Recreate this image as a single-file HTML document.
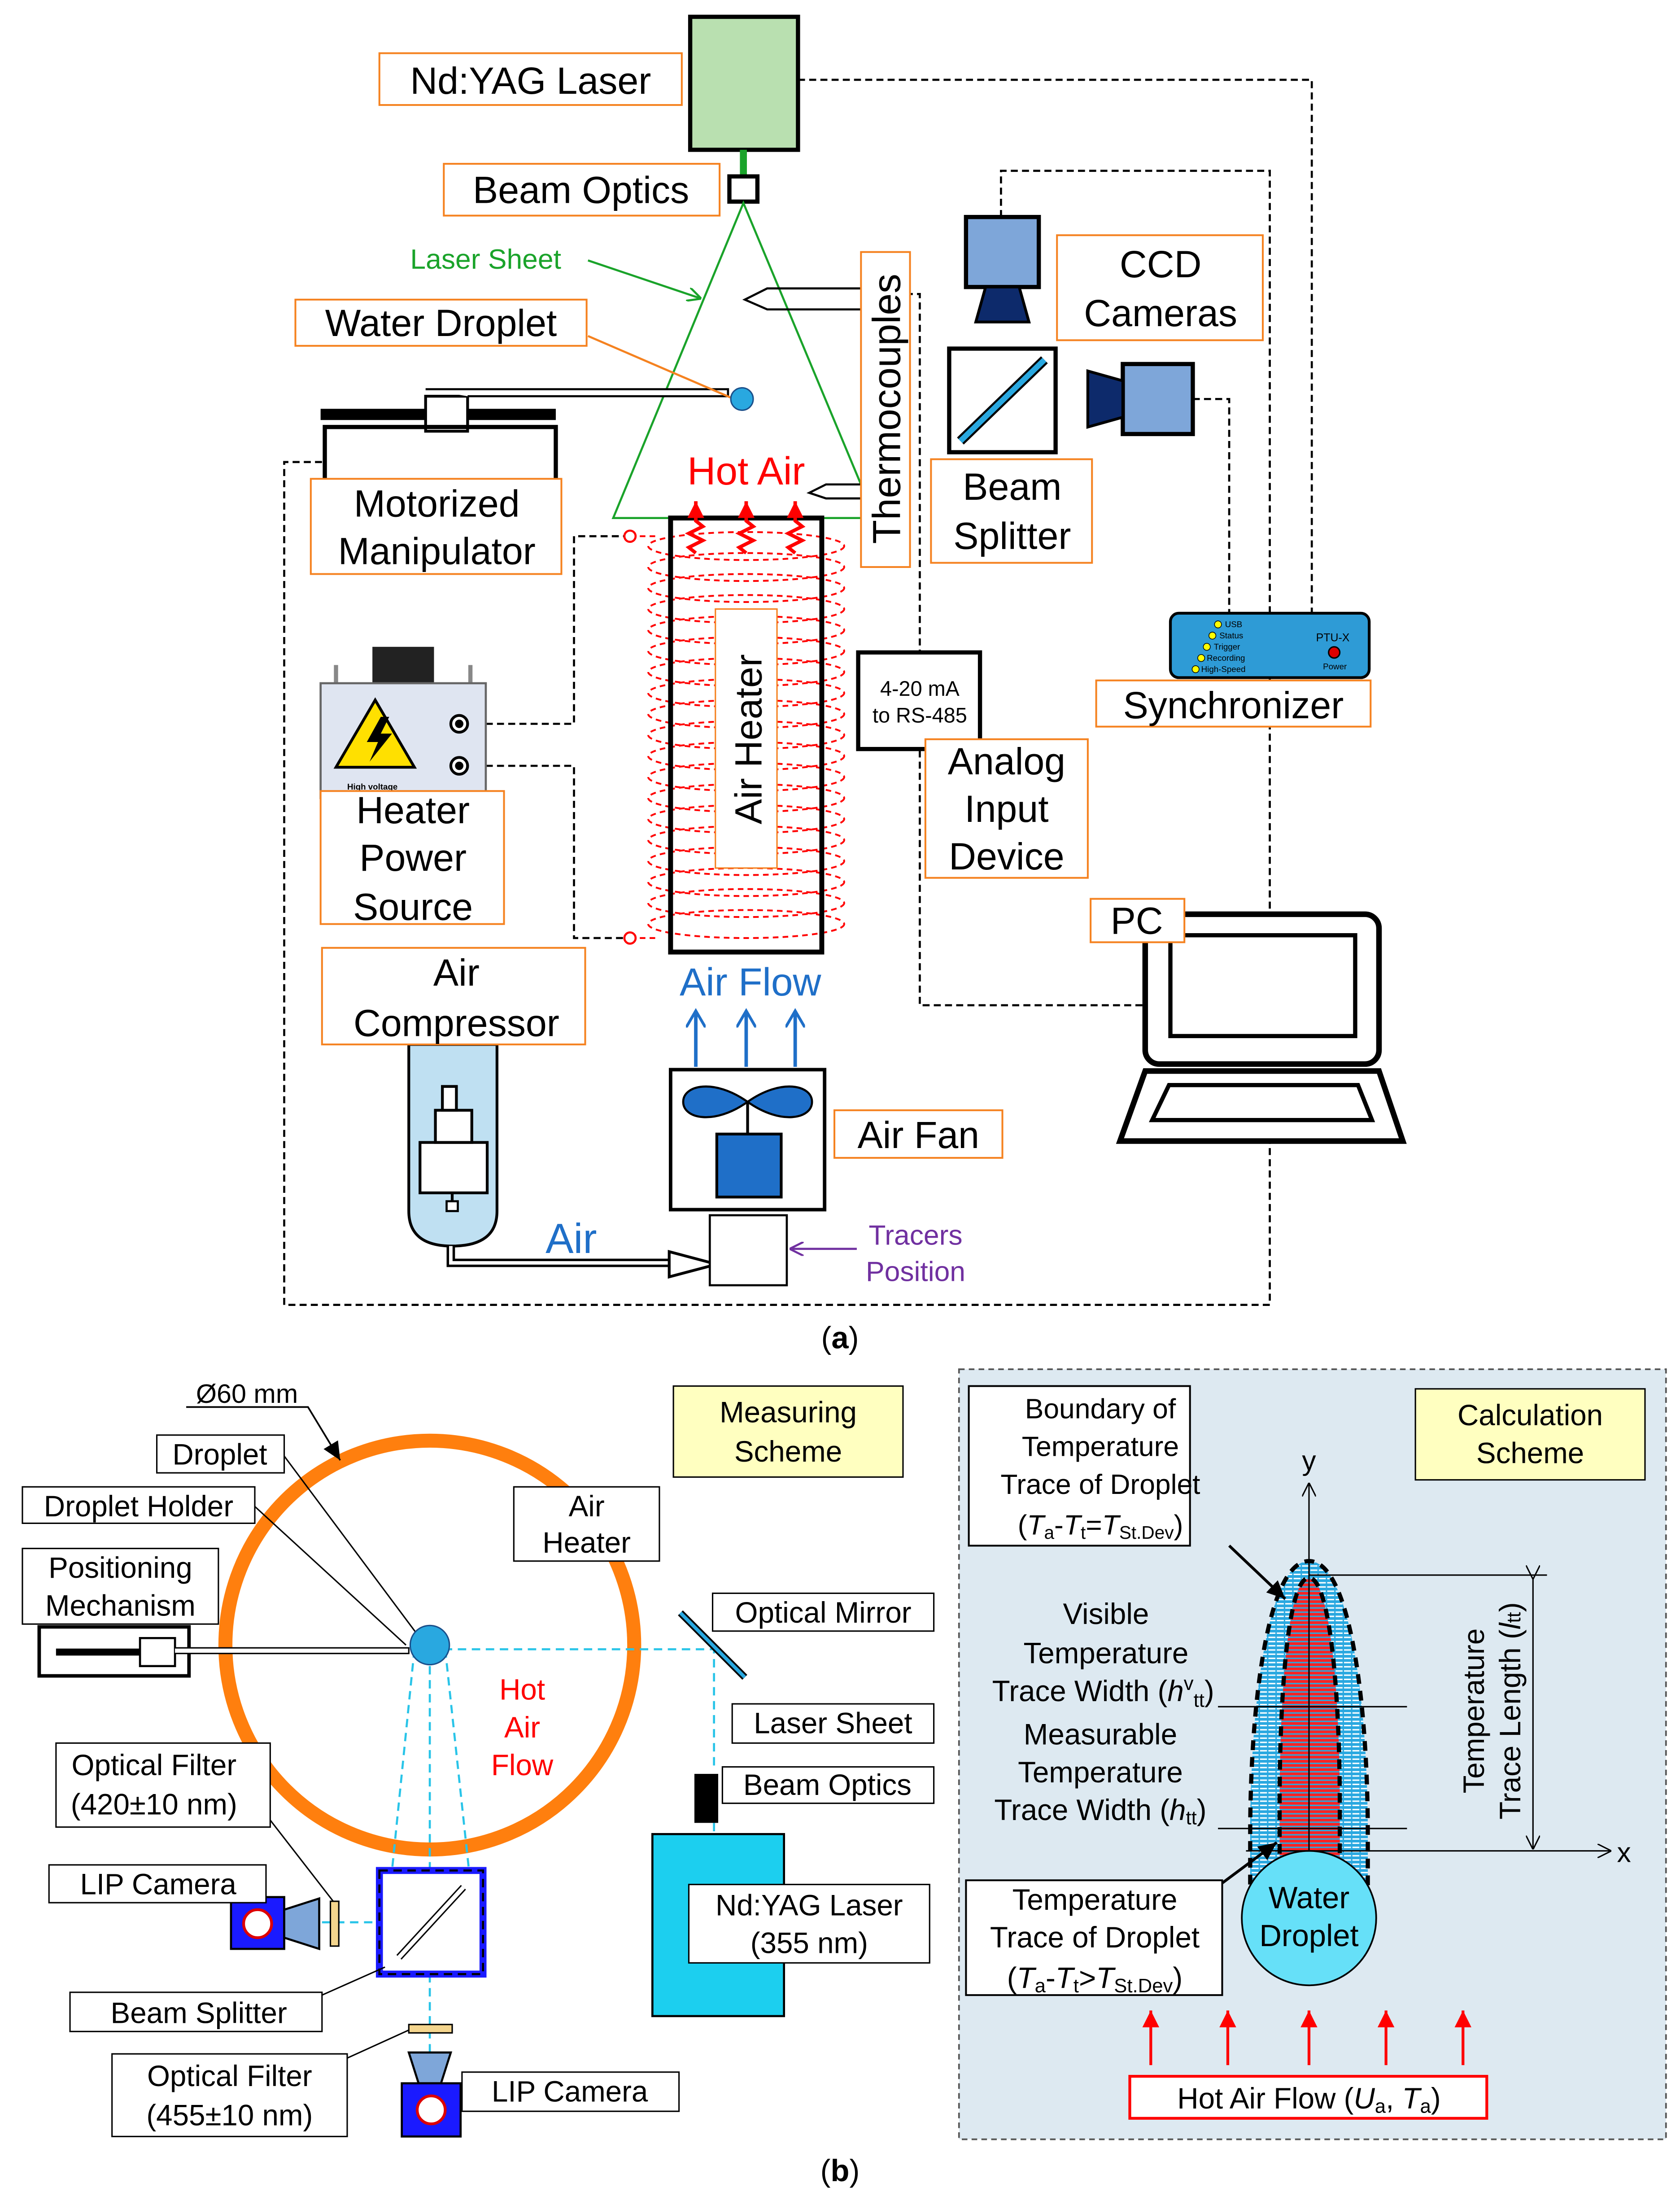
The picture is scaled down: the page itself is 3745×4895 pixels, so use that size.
<!DOCTYPE html>
<html><head><meta charset="utf-8"><style>
html,body{margin:0;padding:0;background:#fff;}
svg{display:block;}
text{font-family:"Liberation Sans",sans-serif;}
</style></head><body>
<svg width="3745" height="4895" viewBox="0 0 1200 1568.5" xmlns="http://www.w3.org/2000/svg">
<defs>
<marker id="ag" markerWidth="10" markerHeight="10" refX="9" refY="5" orient="auto" markerUnits="userSpaceOnUse"><path d="M0,0 L10,5 L0,10" fill="none" stroke="#1aa32a" stroke-width="1.5"/></marker>
<marker id="ab" markerWidth="14" markerHeight="14" refX="12" refY="7" orient="auto" markerUnits="userSpaceOnUse"><path d="M0,0 L12,7 L0,14" fill="none" stroke="#1f6fc8" stroke-width="2"/></marker>
<marker id="ak" markerWidth="14" markerHeight="14" refX="13" refY="7" orient="auto" markerUnits="userSpaceOnUse"><path d="M0,1 L13,7 L0,13 Z" fill="#000"/></marker>
<marker id="ao" markerWidth="10" markerHeight="10" refX="9" refY="5" orient="auto" markerUnits="userSpaceOnUse"><path d="M0,0 L10,5 L0,10" fill="none" stroke="#000" stroke-width="1"/></marker>
<marker id="ar" markerWidth="14" markerHeight="14" refX="12" refY="7" orient="auto" markerUnits="userSpaceOnUse"><path d="M0,1 L12,7 L0,13 Z" fill="#f00"/></marker>
<marker id="ap" markerWidth="10" markerHeight="10" refX="9" refY="5" orient="auto" markerUnits="userSpaceOnUse"><path d="M0,0 L10,5 L0,10" fill="none" stroke="#7030a0" stroke-width="1.5"/></marker>
<pattern id="hb" width="6" height="3" patternUnits="userSpaceOnUse"><rect width="6" height="3" fill="#29a8e0"/><rect y="2" width="5" height="1" fill="#fff"/></pattern>
<pattern id="hr" width="6" height="3" patternUnits="userSpaceOnUse"><rect width="6" height="3" fill="#f22"/><rect y="2" width="6" height="1" fill="#29a8e0"/></pattern>
</defs>

<g fill="none" stroke="#000" stroke-width="1.5" stroke-dasharray="5,3">
<path d="M570,57 H937 V438"/>
<path d="M715,155 V122 H907 V438"/>
<path d="M907,484 V932 H203 V330 H231"/>
<path d="M852,285 H878 V438"/>
<path d="M615,210 H657 V718 H820"/>
<path d="M347,517 H410 V383 H450"/>
<path d="M347,547 H410 V670 H450"/>
</g>

<rect x="493" y="12" width="77" height="95" fill="#b9e0b0" stroke="#000" stroke-width="3"/>
<line x1="531" y1="107" x2="531" y2="125" stroke="#1aa32a" stroke-width="5"/>
<rect x="521" y="126" width="20" height="18" fill="#fff" stroke="#000" stroke-width="3"/>
<polygon points="531,145 438,370 625,370" fill="none" stroke="#1aa32a" stroke-width="1.5"/>
<text x="293" y="192" font-size="20" fill="#1aa32a">Laser Sheet</text>
<line x1="420" y1="186" x2="500" y2="213" stroke="#1aa32a" stroke-width="1.5" marker-end="url(#ag)"/>

<line x1="229" y1="296" x2="397" y2="296" stroke="#000" stroke-width="8"/>
<rect x="304" y="283" width="30" height="25" fill="#fff" stroke="#000" stroke-width="2"/>
<path d="M304,278 H520 V283 H334" fill="#fff" stroke="#000" stroke-width="1.5"/>
<path d="M232,345 V305 H397 V345" fill="none" stroke="#000" stroke-width="3"/>
<line x1="420" y1="240" x2="522" y2="284" stroke="#f58220" stroke-width="1.5"/>
<circle cx="530" cy="285" r="8" fill="#29a8e0" stroke="#1a4f8a" stroke-width="1"/>

<path d="M615,206 H548 L532,214 L548,221 H615" fill="none" stroke="#000" stroke-width="1.5"/>
<path d="M615,346 H590 L578,352 L590,356 H615" fill="none" stroke="#000" stroke-width="1.5"/>

<g fill="none" stroke="#f00" stroke-width="1.3" stroke-dasharray="4,3">
<ellipse cx="533" cy="390" rx="70" ry="10"/><ellipse cx="533" cy="405" rx="70" ry="10"/><ellipse cx="533" cy="420" rx="70" ry="10"/><ellipse cx="533" cy="435" rx="70" ry="10"/><ellipse cx="533" cy="450" rx="70" ry="10"/><ellipse cx="533" cy="465" rx="70" ry="10"/><ellipse cx="533" cy="480" rx="70" ry="10"/><ellipse cx="533" cy="495" rx="70" ry="10"/><ellipse cx="533" cy="510" rx="70" ry="10"/><ellipse cx="533" cy="525" rx="70" ry="10"/><ellipse cx="533" cy="540" rx="70" ry="10"/><ellipse cx="533" cy="555" rx="70" ry="10"/><ellipse cx="533" cy="570" rx="70" ry="10"/><ellipse cx="533" cy="585" rx="70" ry="10"/><ellipse cx="533" cy="600" rx="70" ry="10"/><ellipse cx="533" cy="615" rx="70" ry="10"/><ellipse cx="533" cy="630" rx="70" ry="10"/><ellipse cx="533" cy="645" rx="70" ry="10"/><ellipse cx="533" cy="660" rx="70" ry="10"/>
<path d="M450,383 H470 M450,670 H470"/>
</g>
<circle cx="450" cy="383" r="4" fill="#fff" stroke="#f00" stroke-width="1.5"/>
<circle cx="450" cy="670" r="4" fill="#fff" stroke="#f00" stroke-width="1.5"/>
<rect x="479" y="370" width="108" height="310" fill="none" stroke="#000" stroke-width="3.5"/>
<rect x="511" y="435" width="44" height="185" fill="#fff" stroke="#f58220" stroke-width="1"/>
<text transform="translate(544,528) rotate(-90)" text-anchor="middle" font-size="27">Air Heater</text>
<text x="533" y="346" text-anchor="middle" font-size="28" fill="#f00">Hot Air</text>
<g stroke="#f00" stroke-width="2.5" fill="none">
<path d="M497,395 l-5,-4 l10,-5 l-10,-5 l10,-5 l-5,-4 V358" marker-end="url(#ar)"/>
<path d="M533,395 l-5,-4 l10,-5 l-10,-5 l10,-5 l-5,-4 V358" marker-end="url(#ar)"/>
<path d="M568,395 l-5,-4 l10,-5 l-10,-5 l10,-5 l-5,-4 V358" marker-end="url(#ar)"/>
</g>

<rect x="266" y="462" width="44" height="28" fill="#222"/>
<line x1="240" y1="475" x2="240" y2="490" stroke="#888" stroke-width="3"/><line x1="336" y1="475" x2="336" y2="490" stroke="#888" stroke-width="3"/>
<rect x="229" y="488" width="118" height="82" fill="#dfe5f1" stroke="#666" stroke-width="1.5"/>
<polygon points="268,500 296,548 240,548" fill="#ffe000" stroke="#000" stroke-width="2"/>
<path d="M272,512 L262,530 L270,530 L264,544 L280,524 L272,524 L278,512Z" fill="#000"/>
<text x="248" y="564" font-size="6" font-weight="bold">High voltage</text>
<circle cx="328" cy="517" r="6" fill="#fff" stroke="#000" stroke-width="2"/><circle cx="328" cy="517" r="3" fill="#000"/>
<circle cx="328" cy="547" r="6" fill="#fff" stroke="#000" stroke-width="2"/><circle cx="328" cy="547" r="3" fill="#000"/>

<path d="M292,746 H355 V865 Q355,890 323,890 Q292,890 292,865 Z" fill="#bfe0f2" stroke="#000" stroke-width="2"/>
<rect x="300" y="816" width="48" height="36" fill="#fff" stroke="#000" stroke-width="2"/>
<rect x="311" y="793" width="26" height="23" fill="#fff" stroke="#000" stroke-width="2"/>
<rect x="316" y="776" width="10" height="17" fill="#fff" stroke="#000" stroke-width="2"/>
<line x1="323" y1="852" x2="323" y2="860" stroke="#000" stroke-width="2"/><rect x="319" y="858" width="8" height="7" fill="#fff" stroke="#000" stroke-width="1.5"/>
<path d="M322,890 V902 H480" fill="none" stroke="#000" stroke-width="6"/>
<path d="M322,890 V902 H480" fill="none" stroke="#fff" stroke-width="2.5"/>
<path d="M478,894 L512,903 L478,912 Z" fill="#fff" stroke="#000" stroke-width="2"/>
<text x="408" y="895" text-anchor="middle" font-size="30" fill="#1f6fc8">Air</text>

<rect x="479" y="764" width="110" height="100" fill="#fff" stroke="#000" stroke-width="2.5"/>
<path d="M534,787 C510,770 488,775 488,787 C488,799 510,804 534,787 C558,770 580,775 580,787 C580,799 558,804 534,787Z" fill="#1f6fc8" stroke="#000" stroke-width="1.5"/>
<line x1="534" y1="787" x2="534" y2="810" stroke="#000" stroke-width="2"/>
<rect x="512" y="810" width="46" height="45" fill="#1f6fc8" stroke="#000" stroke-width="2"/>
<rect x="507" y="868" width="55" height="50" fill="#fff" stroke="#000" stroke-width="1.5"/>
<text x="536" y="711" text-anchor="middle" font-size="28" fill="#1f6fc8">Air Flow</text>
<g stroke="#1f6fc8" stroke-width="2.5"><line x1="497" y1="762" x2="497" y2="722" marker-end="url(#ab)"/><line x1="533" y1="762" x2="533" y2="722" marker-end="url(#ab)"/><line x1="568" y1="762" x2="568" y2="722" marker-end="url(#ab)"/></g>
<text x="654" y="889" text-anchor="middle" font-size="20" fill="#7030a0">Tracers</text>
<text x="654" y="915" text-anchor="middle" font-size="20" fill="#7030a0">Position</text>
<line x1="612" y1="892" x2="565" y2="892" stroke="#7030a0" stroke-width="1.5" marker-end="url(#ap)"/>

<rect x="690" y="155" width="52" height="50" fill="#7ea6d9" stroke="#000" stroke-width="3"/>
<polygon points="704,205 728,205 735,230 697,230" fill="#0d2a6b" stroke="#000" stroke-width="2"/>
<rect x="678" y="249" width="76" height="74" fill="#fff" stroke="#000" stroke-width="3"/>
<line x1="686" y1="315" x2="746" y2="257" stroke="#000" stroke-width="7"/><line x1="686" y1="315" x2="746" y2="257" stroke="#29a8e0" stroke-width="4"/>
<rect x="802" y="260" width="50" height="50" fill="#7ea6d9" stroke="#000" stroke-width="3"/>
<polygon points="802,272 802,298 777,305 777,265" fill="#0d2a6b" stroke="#000" stroke-width="2"/>

<rect x="613" y="466" width="87" height="69" fill="#fff" stroke="#000" stroke-width="3"/>
<text x="657" y="497" text-anchor="middle" font-size="15">4-20 mA</text>
<text x="657" y="516" text-anchor="middle" font-size="15">to RS-485</text>

<rect x="836" y="438" width="142" height="46" rx="6" fill="#2e9bd6" stroke="#000" stroke-width="2"/>
<g fill="#ff0" stroke="#000" stroke-width="0.5"><circle cx="870" cy="446" r="2.5"/><circle cx="866" cy="454" r="2.5"/><circle cx="862" cy="462" r="2.5"/><circle cx="858" cy="470" r="2.5"/><circle cx="854" cy="478" r="2.5"/></g>
<g font-size="6"><text x="875" y="448">USB</text><text x="871" y="456">Status</text><text x="867" y="464">Trigger</text><text x="862" y="472">Recording</text><text x="858" y="480">High-Speed</text><text x="940" y="458" font-size="8">PTU-X</text><text x="945" y="478">Power</text></g>
<circle cx="953" cy="466" r="4" fill="#d00" stroke="#000" stroke-width="1"/>

<rect x="818" y="653" width="167" height="107" rx="10" fill="#fff" stroke="#000" stroke-width="4"/>
<rect x="836" y="668" width="132" height="72" fill="#fff" stroke="#000" stroke-width="3"/>
<polygon points="818,765 985,765 1002,815 800,815" fill="#fff" stroke="#000" stroke-width="4"/>
<polygon points="835,775 970,775 980,800 823,800" fill="#fff" stroke="#000" stroke-width="3"/>

<g fill="#fff" stroke="#f58220" stroke-width="1.3">
<rect x="271" y="38" width="216" height="37"/>
<rect x="317" y="117" width="197" height="37"/>
<rect x="211" y="214" width="208" height="33"/>
<rect x="222" y="342" width="179" height="68"/>
<rect x="615" y="180" width="35" height="225"/>
<rect x="755" y="168" width="147" height="75"/>
<rect x="665" y="328" width="115" height="74"/>
<rect x="783" y="486" width="196" height="33"/>
<rect x="661" y="528" width="116" height="99"/>
<rect x="229" y="565" width="131" height="95"/>
<rect x="230" y="677" width="188" height="69"/>
<rect x="596" y="793" width="120" height="34"/>
<rect x="779" y="642" width="67" height="31"/>
</g>
<g font-size="27" text-anchor="middle">
<text x="379" y="67">Nd:YAG Laser</text>
<text x="415" y="145">Beam Optics</text>
<text x="315" y="240">Water Droplet</text>
<text x="312" y="369">Motorized</text><text x="312" y="403">Manipulator</text>
<text transform="translate(643,292) rotate(-90)" font-size="28">Thermocouples</text>
<text x="829" y="198">CCD</text><text x="829" y="233">Cameras</text>
<text x="723" y="357">Beam</text><text x="723" y="392">Splitter</text>
<text x="881" y="513">Synchronizer</text>
<text x="719" y="553">Analog</text><text x="719" y="587">Input</text><text x="719" y="621">Device</text>
<text x="295" y="588">Heater</text><text x="295" y="622">Power</text><text x="295" y="657">Source</text>
<text x="326" y="704">Air</text><text x="326" y="740">Compressor</text>
<text x="656" y="820">Air Fan</text>
<text x="812" y="667">PC</text>
</g>
<text x="600" y="963" text-anchor="middle" font-size="22" font-family="Liberation Serif,serif">(<tspan font-weight="bold">a</tspan>)</text>

<circle cx="307" cy="1175" r="146" fill="none" stroke="#ff7f0e" stroke-width="10"/>
<text x="140" y="1002" font-size="19">Ø60 mm</text>
<path d="M133,1005 H220 L243,1043" fill="none" stroke="#000" stroke-width="1.2" marker-end="url(#ak)"/>
<line x1="203" y1="1040" x2="300" y2="1170" stroke="#000" stroke-width="1"/>
<line x1="182" y1="1076" x2="290" y2="1175" stroke="#000" stroke-width="1"/>
<g fill="none" stroke="#29c4e8" stroke-width="1.5" stroke-dasharray="6,4">
<path d="M307,1178 H510 V1265"/>
<path d="M510,1302 V1310"/>
<path d="M296,1178 L280,1336 M318,1178 L335,1336 M307,1180 V1480"/>
<path d="M200,1373 H275"/>
</g>
<line x1="486" y1="1152" x2="532" y2="1198" stroke="#000" stroke-width="5"/><line x1="486" y1="1152" x2="532" y2="1198" stroke="#29a8e0" stroke-width="2.5"/>
<rect x="28" y="1162" width="107" height="35" fill="#fff" stroke="#000" stroke-width="2.5"/>
<line x1="40" y1="1180" x2="100" y2="1180" stroke="#000" stroke-width="5"/>
<rect x="100" y="1170" width="25" height="20" fill="#fff" stroke="#000" stroke-width="1.5"/>
<path d="M125,1177 H292 V1181 H125" fill="#fff" stroke="#000" stroke-width="1"/>
<circle cx="307" cy="1175" r="14" fill="#29a8e0" stroke="#1a4f8a" stroke-width="1"/>
<text x="373" y="1214" text-anchor="middle" font-size="21" fill="#f00">Hot</text>
<text x="373" y="1241" text-anchor="middle" font-size="21" fill="#f00">Air</text>
<text x="373" y="1268" text-anchor="middle" font-size="21" fill="#f00">Flow</text>
<rect x="496" y="1267" width="17" height="35" fill="#000"/>
<rect x="466" y="1310" width="94" height="130" fill="#1ccfef" stroke="#000" stroke-width="1.5"/>
<rect x="271" y="1336" width="74" height="74" fill="#fff" stroke="#1a1aff" stroke-width="5"/>
<rect x="271" y="1336" width="74" height="74" fill="none" stroke="#000" stroke-width="1.5" stroke-dasharray="6,4"/>
<line x1="285" y1="1398" x2="331" y2="1348" stroke="#000" stroke-width="5"/><line x1="285" y1="1398" x2="331" y2="1348" stroke="#fff" stroke-width="3"/>
<rect x="165" y="1355" width="38" height="37" fill="#1a1aff" stroke="#000" stroke-width="1.5"/>
<circle cx="184" cy="1374" r="10" fill="#fff" stroke="#d00" stroke-width="2"/>
<polygon points="203,1364 228,1356 228,1392 203,1384" fill="#7ea6d9" stroke="#000" stroke-width="1.5"/>
<rect x="236" y="1358" width="6" height="32" fill="#f4d58d" stroke="#000" stroke-width="1"/>
<rect x="292" y="1446" width="31" height="6" fill="#f4d58d" stroke="#000" stroke-width="1"/>
<polygon points="292,1466 322,1466 315,1488 299,1488" fill="#7ea6d9" stroke="#000" stroke-width="1.5"/>
<rect x="287" y="1488" width="42" height="38" fill="#1a1aff" stroke="#000" stroke-width="1.5"/>
<circle cx="308" cy="1507" r="10" fill="#fff" stroke="#d00" stroke-width="2"/>
<g stroke="#000" stroke-width="1">
<line x1="193" y1="1300" x2="238" y2="1358"/>
<line x1="230" y1="1425" x2="275" y2="1405"/>
<line x1="248" y1="1470" x2="292" y2="1450"/>
</g>
<g fill="#fff" stroke="#000" stroke-width="1">
<rect x="112" y="1025" width="91" height="27"/>
<rect x="16" y="1062" width="166" height="26"/>
<rect x="16" y="1106" width="140" height="54"/>
<rect x="367" y="1062" width="104" height="53"/>
<rect x="509" y="1138" width="158" height="27"/>
<rect x="523" y="1217" width="144" height="28"/>
<rect x="516" y="1262" width="151" height="26"/>
<rect x="492" y="1346" width="172" height="56"/>
<rect x="40" y="1245" width="153" height="60"/>
<rect x="35" y="1332" width="155" height="27"/>
<rect x="50" y="1423" width="180" height="28"/>
<rect x="80" y="1467" width="168" height="59"/>
<rect x="330" y="1480" width="155" height="28"/>
</g>
<rect x="481" y="990" width="164" height="65" fill="#ffffc0" stroke="#000" stroke-width="1"/>
<g font-size="21" text-anchor="middle">
<text x="157" y="1046">Droplet</text>
<text x="99" y="1083">Droplet Holder</text>
<text x="86" y="1127">Positioning</text><text x="86" y="1154">Mechanism</text>
<text x="419" y="1083">Air</text><text x="419" y="1109">Heater</text>
<text x="563" y="1016">Measuring</text><text x="563" y="1044">Scheme</text>
<text x="588" y="1159">Optical Mirror</text>
<text x="595" y="1238">Laser Sheet</text>
<text x="591" y="1282">Beam Optics</text>
<text x="578" y="1368">Nd:YAG Laser</text><text x="578" y="1395">(355 nm)</text>
<text x="110" y="1268">Optical Filter</text><text x="110" y="1296">(420±10 nm)</text>
<text x="113" y="1353">LIP Camera</text>
<text x="142" y="1445">Beam Splitter</text>
<text x="164" y="1490">Optical Filter</text><text x="164" y="1518">(455±10 nm)</text>
<text x="407" y="1501">LIP Camera</text>
</g>

<rect x="685" y="978" width="505" height="550" fill="#dde9f1" stroke="#555" stroke-width="1.2" stroke-dasharray="4,3"/>
<rect x="1011" y="992" width="164" height="65" fill="#ffffc0" stroke="#000" stroke-width="1"/>
<path d="M893,1370 V1310 C893,1220 905,1115 935,1115 C965,1115 977,1220 977,1310 V1370 Z" fill="url(#hb)" stroke="#000" stroke-width="3" stroke-dasharray="7,5"/>
<path d="M914,1360 V1290 C914,1210 920,1127 935,1127 C950,1127 957,1210 957,1290 V1360 Z" fill="url(#hr)" stroke="#000" stroke-width="3" stroke-dasharray="7,5"/>
<line x1="935" y1="1360" x2="935" y2="1060" stroke="#000" stroke-width="1" marker-end="url(#ao)"/>
<line x1="890" y1="1322" x2="1150" y2="1322" stroke="#000" stroke-width="1" marker-end="url(#ao)"/>
<text x="935" y="1050" text-anchor="middle" font-size="20">y</text>
<text x="1160" y="1330" text-anchor="middle" font-size="20">x</text>
<line x1="935" y1="1125" x2="1105" y2="1125" stroke="#000" stroke-width="1"/>
<line x1="1095" y1="1127" x2="1095" y2="1320" stroke="#000" stroke-width="1" marker-start="url(#ao)" marker-end="url(#ao)"/>
<line x1="870" y1="1219" x2="1005" y2="1219" stroke="#000" stroke-width="1"/>
<line x1="870" y1="1306" x2="1005" y2="1306" stroke="#000" stroke-width="1"/>
<circle cx="935" cy="1370" r="48" fill="#66e0f8" stroke="#000" stroke-width="1.2"/>
<text x="935" y="1363" text-anchor="middle" font-size="22">Water</text>
<text x="935" y="1390" text-anchor="middle" font-size="22">Droplet</text>
<line x1="878" y1="1104" x2="918" y2="1142" stroke="#000" stroke-width="2" marker-end="url(#ak)"/>
<line x1="873" y1="1345" x2="912" y2="1316" stroke="#000" stroke-width="2" marker-end="url(#ak)"/>
<rect x="692" y="990" width="158" height="114" fill="#fff" stroke="#000" stroke-width="1.3"/>
<rect x="690" y="1343" width="183" height="82" fill="#fff" stroke="#000" stroke-width="1.3"/>
<g font-size="21" text-anchor="middle">
<text x="1093" y="1018">Calculation</text><text x="1093" y="1045">Scheme</text>
<g font-size="20">
<text x="786" y="1013">Boundary of</text><text x="786" y="1040">Temperature</text><text x="786" y="1067">Trace of Droplet</text>
<text x="786" y="1096">(<tspan font-style="italic">T</tspan><tspan font-size="13" dy="3">a</tspan><tspan dy="-3">-</tspan><tspan font-style="italic">T</tspan><tspan font-size="13" dy="3">t</tspan><tspan dy="-3">=</tspan><tspan font-style="italic">T</tspan><tspan font-size="13" dy="3">St.Dev</tspan><tspan dy="-3">)</tspan></text>
</g>
<text x="790" y="1160">Visible</text><text x="790" y="1188">Temperature</text>
<text x="788" y="1215">Trace Width (<tspan font-style="italic">h</tspan><tspan font-size="14" dy="-8">v</tspan><tspan font-size="14" dy="12">tt</tspan><tspan dy="-4">)</tspan></text>
<text x="786" y="1246">Measurable</text><text x="786" y="1273">Temperature</text>
<text x="786" y="1300">Trace Width (<tspan font-style="italic">h</tspan><tspan font-size="14" dy="3">tt</tspan><tspan dy="-3">)</tspan></text>
<text x="782" y="1364">Temperature</text><text x="782" y="1391">Trace of Droplet</text>
<text x="782" y="1420">(<tspan font-style="italic">T</tspan><tspan font-size="14" dy="3">a</tspan><tspan dy="-3">-</tspan><tspan font-style="italic">T</tspan><tspan font-size="14" dy="3">t</tspan><tspan dy="-3">&gt;</tspan><tspan font-style="italic">T</tspan><tspan font-size="14" dy="3">St.Dev</tspan><tspan dy="-3">)</tspan></text>
<text transform="translate(1060,1222) rotate(-90)">Temperature</text>
<text transform="translate(1086,1222) rotate(-90)">Trace Length (<tspan font-style="italic">l</tspan><tspan font-size="14">tt</tspan>)</text>
</g>
<g stroke="#f00" stroke-width="2">
<line x1="822" y1="1475" x2="822" y2="1436" marker-end="url(#ar)"/>
<line x1="877" y1="1475" x2="877" y2="1436" marker-end="url(#ar)"/>
<line x1="935" y1="1475" x2="935" y2="1436" marker-end="url(#ar)"/>
<line x1="990" y1="1475" x2="990" y2="1436" marker-end="url(#ar)"/>
<line x1="1045" y1="1475" x2="1045" y2="1436" marker-end="url(#ar)"/>
</g>
<rect x="807" y="1483" width="255" height="30" fill="#fff" stroke="#f00" stroke-width="2"/>
<text x="935" y="1506" text-anchor="middle" font-size="21">Hot Air Flow (<tspan font-style="italic">U</tspan><tspan font-size="14" dy="3">a</tspan><tspan dy="-3">, </tspan><tspan font-style="italic">T</tspan><tspan font-size="14" dy="3">a</tspan><tspan dy="-3">)</tspan></text>
<text x="600" y="1558" text-anchor="middle" font-size="22" font-family="Liberation Serif,serif">(<tspan font-weight="bold">b</tspan>)</text>
</svg>
</body></html>
